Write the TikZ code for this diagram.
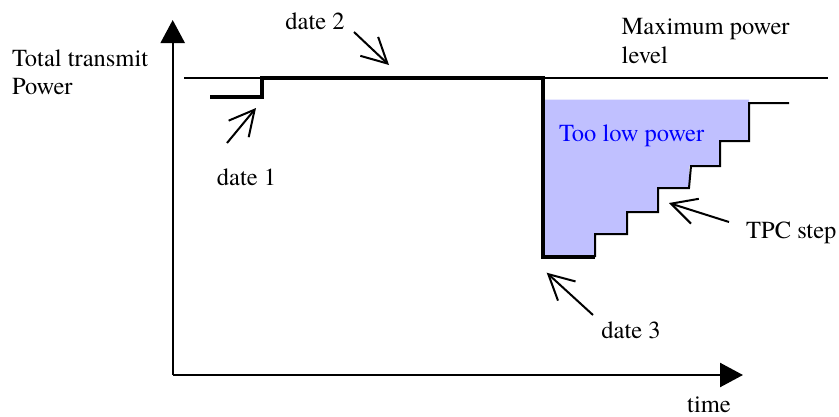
\documentclass[tikz,border=0pt]{standalone}
\usepackage{fontspec}
\setmainfont{TeX Gyre Termes}
\usetikzlibrary{arrows.meta}
\definecolor{lowfill}{RGB}{192,192,255}
\begin{document}
\begin{tikzpicture}[x=1pt,y=-1pt,
  lbl/.style={inner sep=0pt,font=\rmfamily\fontsize{24.5}{28}\selectfont},
  axis/.style={line width=2.4pt,-{Triangle[length=23pt,width=24pt]}},
  thinline/.style={line width=2pt},
  thickline/.style={line width=4pt,line join=miter},
  pointer/.style={line width=2pt,-{Straight Barb[length=25pt,width=26pt,line width=2pt]}}]
\useasboundingbox (0,0) rectangle (839,416);
% fill region
\fill[lowfill] (543,99.5) -- (749,99.5) -- (749,141) -- (720,141) -- (720,166) -- (689,166)
  -- (689,188) -- (658,188) -- (658,212) -- (627,212) -- (627,234) -- (595,234)
  -- (595,257) -- (543,257) -- cycle;
% axes
\coordinate (o) at (172.7,375);
\coordinate (ytip) at (172.7,20);
\coordinate (xtip) at (743,375);
\draw[axis] (o) -- (ytip);
\draw[axis] (o) -- (xtip);
% maximum power level
\coordinate (maxa) at (184,78);
\coordinate (maxb) at (828,78);
\draw[thinline] (maxa) -- (maxb);
% power curve
\draw[thickline] (210,97) -- (262,97) -- (262,78) -- (543,78) -- (543,257) -- (595,257);
% TPC staircase
\draw[thinline] (595,257) -- (595,234) -- (627,234) -- (627,212) -- (658,212) -- (658,188)
  -- (689,188) -- (691,166) -- (720,166) -- (720,141) -- (749,141) -- (749,103) -- (789,103);
% labels
\node[lbl,anchor=base west] (ytitle1) at (12,66) {Total transmit};
\node[lbl,anchor=base west] (ytitle2) at (12,94) {Power};
\node[lbl,anchor=base west] (max1) at (621.5,34) {Maximum power};
\node[lbl,anchor=base west] (max2) at (621.5,63) {level};
\node[lbl,anchor=base] (d1) at (246.5,185) {date 1};
\node[lbl,anchor=base] (d2) at (315,29.5) {date 2};
\node[lbl,anchor=base] (d3) at (631,338) {date 3};
\node[lbl,anchor=base west] (tpc) at (746,238) {TPC step};
\node[lbl,anchor=base] (time) at (709,412) {time};
\node[lbl,anchor=base west,text=blue] (low) at (559,141) {Too low power};
% pointers
\coordinate (d1tail) at (227,143);
\coordinate (d1tip) at (256,108);
\coordinate (d2tail) at (354,32);
\coordinate (d2tip) at (389,65);
\coordinate (d3tail) at (593,315);
\coordinate (d3tip) at (546.7,272.7);
\coordinate (tpctail) at (729,222);
\coordinate (tpctip) at (669,203);
\draw[pointer] (d1tail) -- (d1tip);
\draw[pointer] (d2tail) -- (d2tip);
\draw[pointer] (d3tail) -- (d3tip);
\draw[pointer] (tpctail) -- (tpctip);
\end{tikzpicture}
\end{document}
